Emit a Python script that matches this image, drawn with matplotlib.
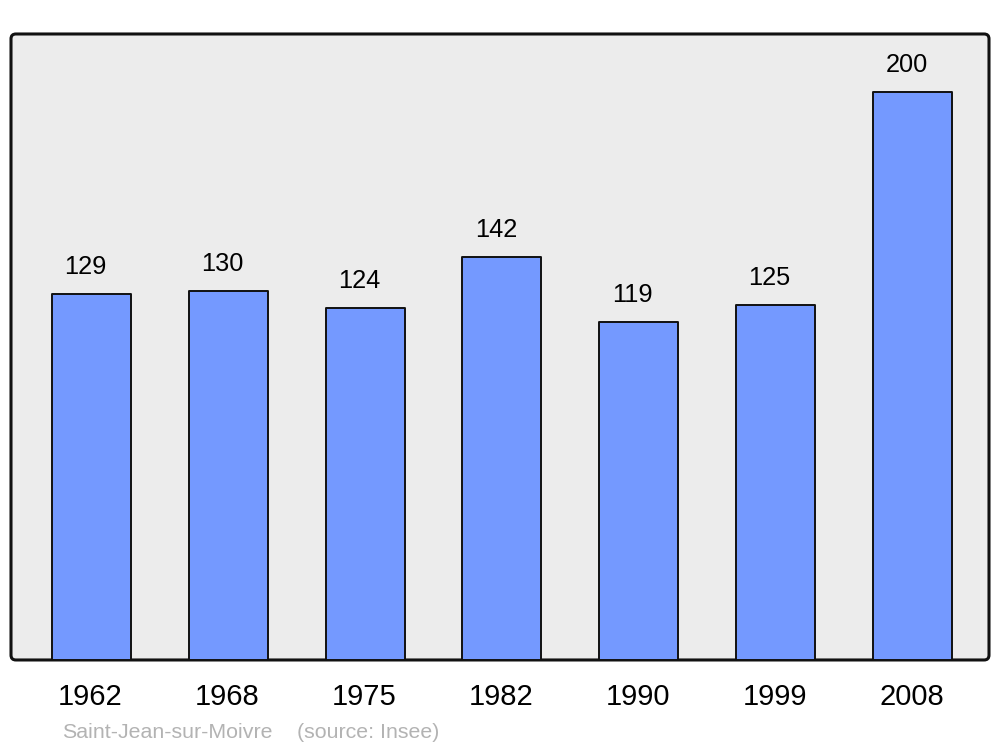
import matplotlib.pyplot as plt
from matplotlib.patches import FancyBboxPatch

plt.rcParams['font.family'] = ['Liberation Sans', 'DejaVu Sans']

# donnees
annees = ['1962', '1968', '1975', '1982', '1990', '1999', '2008']
population = [129, 130, 124, 142, 119, 125, 200]
commune = 'Saint-Jean-sur-Moivre'
source = '(source: Insee)'

fig = plt.figure(figsize=(10, 7.47), dpi=100)
ax = fig.add_axes([0.011, 0.1165, 0.978, 0.838])
ax.set_xlim(-0.588, 6.56)
ax.set_ylim(0, 220.4)
ax.axis('off')

# fond gris avec coins arrondis
fond = FancyBboxPatch((0, 0), 1, 1, boxstyle='round,pad=0,rounding_size=0.005',
                      mutation_aspect=1.56, transform=ax.transAxes,
                      facecolor='#ececec', edgecolor='#111111', linewidth=2.2,
                      zorder=0, clip_on=False)
ax.add_patch(fond)

x = range(len(annees))
ax.bar(x, population, width=0.578, color='#7499ff', edgecolor='#111111',
       linewidth=1.4, joinstyle='round', zorder=2)

for i, v in enumerate(population):
    ax.annotate(str(v), xy=(i, v), xytext=(-4.3, 14.2), textcoords='offset points',
                ha='center', va='baseline', fontsize=18.3, color='black')
    ax.annotate(annees[i], xy=(i, 0), xycoords=('data', 'axes fraction'),
                xytext=(-0.7, -32.4), textcoords='offset points',
                ha='center', va='baseline', fontsize=21, color='black')

fig.text(0.062, 1 - 738 / 747, commune, fontsize=15.4, color='#b3b3b3',
         ha='left', va='baseline')
fig.text(0.297, 1 - 738 / 747, source, fontsize=15.4, color='#b3b3b3',
         ha='left', va='baseline')

fig.savefig('out.png', dpi=100)
